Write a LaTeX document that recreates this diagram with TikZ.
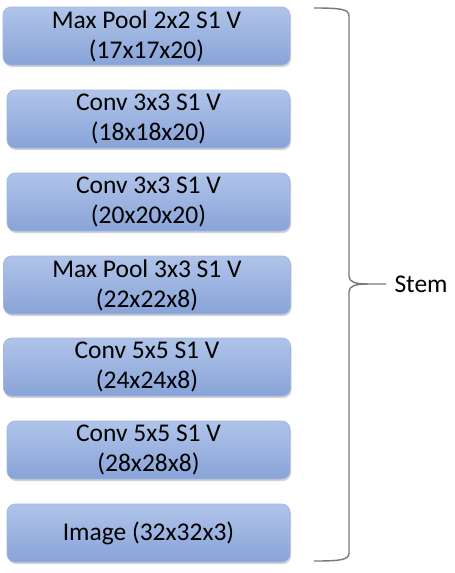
\documentclass[tikz,border=0pt]{standalone}
\usepackage{fontspec}
\setmainfont{Carlito}
\usetikzlibrary{calc,shadows}

\begin{document}
\begin{tikzpicture}[x=1pt, y=-1pt]

\pgfmathsetlengthmacro{\boxHeight}{58pt}
\pgfmathsetlengthmacro{\wideWidth}{287pt}
\pgfmathsetlengthmacro{\narrowWidth}{283pt}
\pgfmathsetlengthmacro{\braceX}{349pt}
\tikzset{
  layer/.style={minimum height=\boxHeight, inner sep=0pt, rounded corners=8pt, align=center,
    top color=layerTop, bottom color=layerBottom, draw=layerEdge, line width=0.6pt,
    font=\fontsize{25.5}{30}\selectfont,
    drop shadow={opacity=0.35, shadow xshift=1pt, shadow yshift=-2pt}},
  brace/.style={draw=braceGray, line width=1.4pt},
}
\definecolor{layerTop}{RGB}{176,196,233}
\definecolor{layerBottom}{RGB}{136,163,216}
\definecolor{layerEdge}{RGB}{160,182,225}
\definecolor{braceGray}{RGB}{120,120,120}

\useasboundingbox (0,0) rectangle (455,573);

% layers, top to bottom
\node[layer, minimum width=\wideWidth, name=pool2] at (146.5,36) {Max Pool 2x2 S1 V\\(17x17x20)};
\node[layer, minimum width=\narrowWidth, name=conv3b] at (148.5,119) {Conv 3x3 S1 V\\(18x18x20)};
\node[layer, minimum width=\narrowWidth, name=conv3a] at (148.5,202) {Conv 3x3 S1 V\\(20x20x20)};
\node[layer, minimum width=\wideWidth, name=pool1] at (147,285) {Max Pool 3x3 S1 V\\(22x22x8)};
\node[layer, minimum width=\wideWidth, name=conv5b] at (147,367) {Conv 5x5 S1 V\\(24x24x8)};
\node[layer, minimum width=\narrowWidth, name=conv5a] at (148.5,450) {Conv 5x5 S1 V\\(28x28x8)};
\node[layer, minimum width=\narrowWidth, name=image] at (148.5,533) {Image (32x32x3)};

% brace
\coordinate (braceTop) at (314,8);
\coordinate (braceBottom) at (314,561);
\coordinate (braceTip) at (386,284);
\draw[brace] (braceTop) .. controls ($(braceTop)+(26,0)$) and (\braceX,9) .. (\braceX,16)
  -- (\braceX,276) .. controls (\braceX,282) and (355,284) .. ($(braceTip)+(-18,0)$) -- (braceTip);
\draw[brace] ($(braceTip)+(-18,0)$) .. controls (355,284) and (\braceX,286) .. (\braceX,292)
  -- (\braceX,553) .. controls (\braceX,560) and ($(braceBottom)+(26,0)$) .. (braceBottom);
\node[anchor=west, font=\fontsize{25.5}{30}\selectfont, name=stem] at ($(braceTip)+(5,0)$) {Stem};

\end{tikzpicture}
\end{document}
